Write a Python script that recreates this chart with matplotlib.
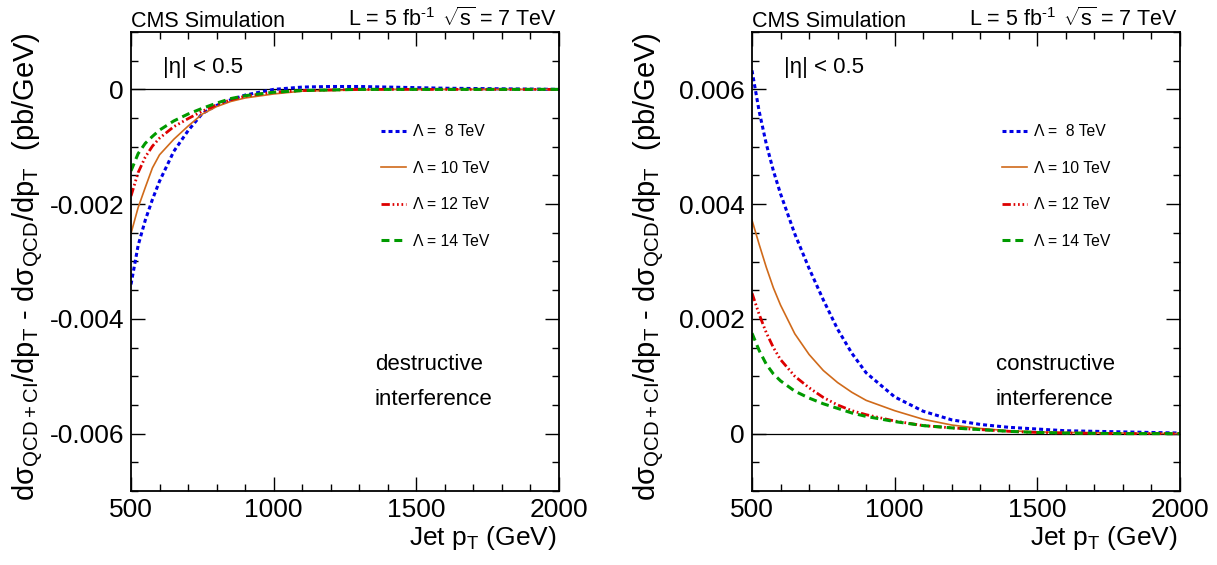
import matplotlib
matplotlib.use("Agg")
import matplotlib.pyplot as plt
from matplotlib.ticker import MultipleLocator, FuncFormatter

plt.rcParams["font.family"] = ["Liberation Sans", "DejaVu Sans"]
plt.rcParams["mathtext.fontset"] = "custom"
plt.rcParams["mathtext.rm"] = "Liberation Sans"
plt.rcParams["mathtext.it"] = "Liberation Sans:italic"
plt.rcParams["mathtext.bf"] = "Liberation Sans:bold"

# jet pT grid (GeV)
pt = [500, 525, 550, 575, 600, 650, 700, 750, 800, 850, 900,
      1000, 1100, 1200, 1300, 1400, 1500, 1600, 1800, 2000]

# destructive interference (pb/GeV)
des_8 = [-0.00340, -0.00272, -0.00228, -0.00192, -0.00160, -0.00108, -0.00072,
         -0.00042, -0.00028, -0.00018, -0.00010, 0.0, 0.00004, 0.00005,
         0.00005, 0.00004, 0.00003, 0.00002, 0.00001, 0.0]
des_10 = [-0.00251, -0.00206, -0.00171, -0.00137, -0.00114, -0.00087, -0.00064,
          -0.00043, -0.00030, -0.00021, -0.00015, -0.00008, -0.00003, -0.00002,
          -0.00001, 0.0, 0.0, 0.0, 0.0, 0.0]
des_12 = [-0.00186, -0.00145, -0.00118, -0.00099, -0.00085, -0.00065, -0.00051,
          -0.00038, -0.00027, -0.00018, -0.00012, -0.00005, -0.00002, -0.00001,
          0.0, 0.0, 0.0, 0.0, 0.0, 0.0]
des_14 = [-0.00142, -0.00112, -0.00094, -0.00082, -0.00071, -0.00055, -0.00043,
          -0.00033, -0.00024, -0.00016, -0.00011, -0.00005, -0.00002, -0.00001,
          0.0, 0.0, 0.0, 0.0, 0.0, 0.0]

# constructive interference (pb/GeV)
con_8 = [0.00633, 0.00562, 0.00505, 0.00458, 0.00418, 0.00348, 0.00288,
         0.00233, 0.00182, 0.00140, 0.00106, 0.00064, 0.00039, 0.00024,
         0.00016, 0.00011, 0.00008, 0.00005, 0.00003, 0.00001]
con_10 = [0.00372, 0.00330, 0.00290, 0.00254, 0.00224, 0.00174, 0.00138,
          0.00110, 0.00089, 0.00072, 0.00058, 0.00040, 0.00025, 0.00015,
          0.00009, 0.00005, 0.00003, 0.00002, 0.00001, 0.0]
con_12 = [0.00245, 0.00208, 0.00176, 0.00150, 0.00129, 0.00100, 0.00080,
          0.00063, 0.00050, 0.00040, 0.00033, 0.00022, 0.00014, 0.00010,
          0.00007, 0.00004, 0.00002, 0.00001, 0.0, 0.0]
con_14 = [0.00175, 0.00145, 0.00121, 0.00104, 0.00092, 0.00074, 0.00062,
          0.00052, 0.00044, 0.00036, 0.00030, 0.00021, 0.00014, 0.00010,
          0.00007, 0.00004, 0.00002, 0.00001, 0.0, 0.0]

labels = ["\u039b =  8 TeV", "\u039b = 10 TeV", "\u039b = 12 TeV", "\u039b = 14 TeV"]

styles = [
    dict(color="#0000e6", lw=2.2, dashes=(1.3, 1.0)),
    dict(color="#d06a1a", lw=1.2),
    dict(color="#dd0000", lw=2.0, dashes=(3.0, 1.0, 0.6, 1.0, 0.6, 1.0, 0.6, 1.0)),
    dict(color="#009a00", lw=2.2, dashes=(2.6, 1.6)),
]

panels = [
    dict(rect=[131 / 1217, 74 / 565, 428 / 1217, 459 / 565], ylim=(-0.007, 0.001),
         series=[des_8, des_10, des_12, des_14], note="destructive\ninterference"),
    dict(rect=[752 / 1217, 74 / 565, 428 / 1217, 459 / 565], ylim=(-0.001, 0.007),
         series=[con_8, con_10, con_12, con_14], note="constructive\ninterference"),
]

ylab = ("d\u03c3$_{\\rm QCD+CI}$/dp$_{\\rm T}$ - d\u03c3$_{\\rm QCD}$/dp$_{\\rm T}$"
        "  (pb/GeV)")

fig = plt.figure(figsize=(12.17, 5.65), dpi=100)

for p in panels:
    ax = fig.add_axes(p["rect"])
    ax.axhline(0, color="black", lw=0.9, zorder=1)
    handles = []
    for vals, lab, st in zip(p["series"], labels, styles):
        h, = ax.plot(pt, vals, label=lab, zorder=2, **st)
        handles.append(h)

    ax.set_xlim(500, 2000)
    ax.set_ylim(*p["ylim"])
    ax.xaxis.set_major_locator(MultipleLocator(500))
    ax.xaxis.set_minor_locator(MultipleLocator(100))
    ax.yaxis.set_major_locator(MultipleLocator(0.002))
    ax.yaxis.set_minor_locator(MultipleLocator(0.0005))
    ax.yaxis.set_major_formatter(FuncFormatter(lambda v, _: "0" if abs(v) < 1e-9 else "%g" % v))
    ax.tick_params(which="both", direction="in", top=True, right=True,
                   labelsize=19, width=1.0)
    ax.tick_params(which="major", length=10, pad=5)
    ax.tick_params(which="minor", length=5)
    for s in ax.spines.values():
        s.set_linewidth(1.3)

    ax.legend(handles=handles, loc="upper left", bbox_to_anchor=(0.585, 0.799),
              frameon=False, fontsize=11.3, handlelength=1.6, handletextpad=0.4,
              labelspacing=1.37, borderpad=0, borderaxespad=0)

    ax.text(0.0, 1.011, "CMS Simulation", transform=ax.transAxes,
            fontsize=15.5, ha="left", va="baseline")
    ax.text(0.507, 1.013, "L = 5 fb$^{\\text{-}1}$", transform=ax.transAxes,
            fontsize=15.5, ha="left", va="baseline")
    ax.text(0.995, 1.013, "$\\sqrt{\\rm s}$ = 7 TeV", transform=ax.transAxes,
            fontsize=15.5, ha="right", va="baseline")
    ax.text(0.074, 0.911, "|\u03b7| < 0.5", transform=ax.transAxes,
            fontsize=16, ha="left", va="baseline")
    ax.text(0.57, 0.187, p["note"], transform=ax.transAxes, fontsize=16,
            ha="left", va="baseline", linespacing=1.9)
    ax.text(0.995, -0.1176, "Jet p$_{\\rm T}$ (GeV)", transform=ax.transAxes,
            fontsize=19, ha="right", va="baseline")
    ax.text(-0.224, 1.0, ylab, transform=ax.transAxes, fontsize=21,
            rotation=90, rotation_mode="anchor", ha="right", va="baseline")

fig.savefig("out.png", dpi=100)
